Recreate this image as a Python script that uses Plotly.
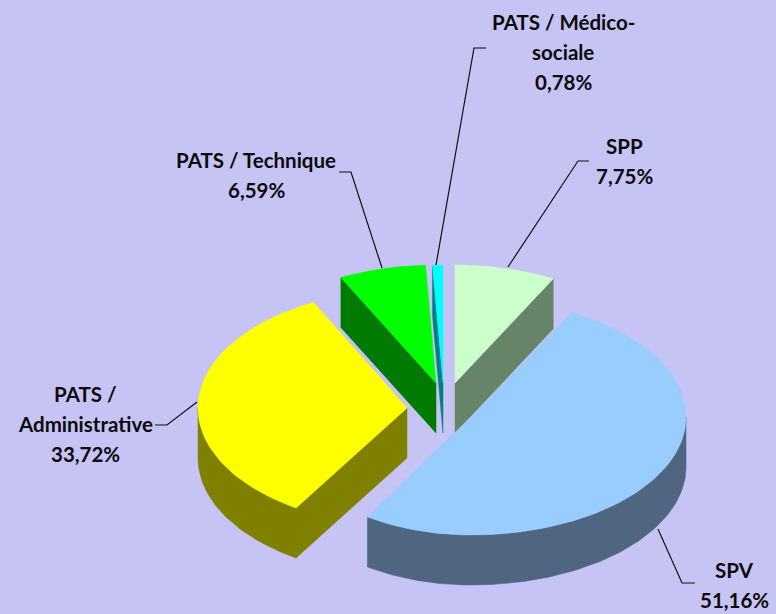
import math
import plotly.graph_objects as go

# Data
categories = ["SPP", "SPV", "PATS / Administrative", "PATS / Technique", "PATS / Médico-sociale"]
values = [7.75, 51.16, 33.72, 6.59, 0.78]
label_lines = [["SPP"], ["SPV"], ["PATS /", "Administrative"], ["PATS / Technique"], ["PATS / Médico-", "sociale"]]
top_colors = ["#CCFFCC", "#99CCFF", "#FFFF00", "#00FF00", "#00FFFF"]
side_colors = ["#688468", "#4F6580", "#808000", "#007A00", "#007F85"]

# Layout / projection settings (pixels)
W, H = 776, 614
BG = "#C6C3F5"
CX, CY = 443, 405
RX, RY, DEPTH = 215, 118, 50
rx_right = [210, 215, 215, 215, 215]
rx_left = [215, 195, 209, 213, 215]
explode_dx = [12, 28, -36, -7, 0]
explode_dy = [-22, 12, 3, -22, -22]
label_x = [624, 734, 85, 256, 563]
label_y = [146, 570, 394, 160, 22]
leader_x = [[508, 578, 589], [658, 682, 695], [197, 167, 155], [382, 351, 339], [436, 474, 486]]
leader_y = [[267, 161, 161], [529, 583, 583], [402, 425, 425], [268, 172, 172], [265, 48, 48]]
LINE_H = 30
FONT = dict(family="Lato, Carlito, 'Open Sans', sans-serif", size=20.5, color="#0A0A0A")


def rim(i, ax, ay, t0, t1, drop=0):
    n = max(2, int((t1 - t0) / 1.5) + 1)
    ts = [t0 + (t1 - t0) * k / (n - 1) for k in range(n)]
    xs = []
    for t in ts:
        st = math.sin(math.radians(t))
        xs.append(ax + (rx_right[i] if st >= 0 else rx_left[i]) * st)
    return xs, [ay - RY * math.cos(math.radians(t)) + drop for t in ts]


fig = go.Figure()


def poly(xs, ys, color):
    fig.add_trace(go.Scatter(x=xs, y=ys, mode="lines", fill="toself", fillcolor=color,
                             line=dict(color=color, width=0.5), hoverinfo="skip", showlegend=False))


total = sum(values)
starts, s = [], 0.0
for v in values:
    starts.append(s)
    s += v / total * 360

for i in [0, 4, 3, 2, 1]:
    t0 = starts[i]
    t1 = t0 + values[i] / total * 360
    ax, ay = CX + explode_dx[i], CY + explode_dy[i]
    # radial cut faces
    if math.sin(math.radians(t0)) < -1e-6:
        ex, ey = rim(i, ax, ay, t0, t0)
        poly([ax, ex[0], ex[0], ax, ax], [ay, ey[0], ey[0] + DEPTH, ay + DEPTH, ay], side_colors[i])
    if math.sin(math.radians(t1)) > 1e-6:
        ex, ey = rim(i, ax, ay, t1, t1)
        poly([ax, ex[0], ex[0], ax, ax], [ay, ey[0], ey[0] + DEPTH, ay + DEPTH, ay], side_colors[i])
    # outer wall (front half only)
    a, b = max(t0, 90), min(t1, 270)
    if b > a:
        xt, yt = rim(i, ax, ay, a, b)
        xb, yb = rim(i, ax, ay, a, b, DEPTH)
        poly(xt + xb[::-1] + [xt[0]], yt + yb[::-1] + [yt[0]], side_colors[i])
    # top
    xt, yt = rim(i, ax, ay, t0, t1)
    poly([ax] + xt + [ax], [ay] + yt + [ay], top_colors[i])

for lx, ly in zip(leader_x, leader_y):
    fig.add_trace(go.Scatter(x=lx, y=ly, mode="lines", line=dict(color="#111111", width=1.2),
                             hoverinfo="skip", showlegend=False))

for i, lines in enumerate(label_lines):
    pct = f"{values[i]:.2f}".replace(".", ",") + "%"
    for j, txt in enumerate(lines + [pct]):
        fig.add_annotation(x=label_x[i], y=label_y[i] + j * LINE_H, text=f"<b>{txt}</b>",
                           showarrow=False, font=FONT, xanchor="center", yanchor="middle")

fig.update_layout(width=W, height=H, margin=dict(l=0, r=0, t=0, b=0),
                  paper_bgcolor=BG, plot_bgcolor=BG, showlegend=False,
                  xaxis=dict(range=[0, W], visible=False),
                  yaxis=dict(range=[H, 0], visible=False))
fig.write_html("out.html", config=dict(displayModeBar=False),
               post_script="document.body.style.margin='0';document.body.style.overflow='hidden';")
